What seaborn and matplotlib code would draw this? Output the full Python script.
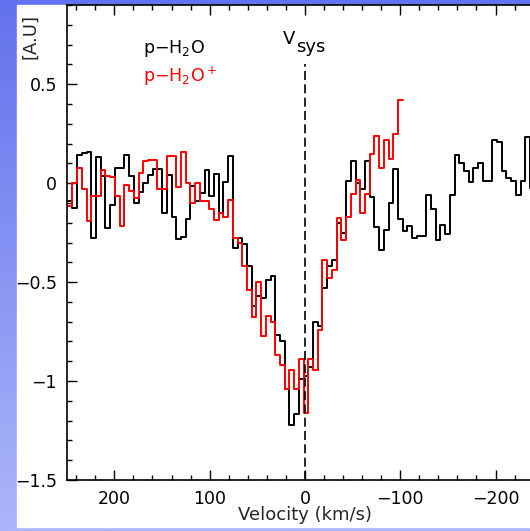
import numpy as np
import pandas as pd
import seaborn as sns
import matplotlib.pyplot as plt
from matplotlib.ticker import MultipleLocator

# spectra, one value per channel (A.U.)
# channels start at +248.9 km/s and run towards negative velocity
ph2o = [-0.09, -0.125, 0.14, 0.15, 0.155, -0.277, 0.13, 0.035, -0.225, -0.11,
        0.075, 0.075, 0.14, 0.035, -0.1, -0.045, 0.0, 0.04, 0.07, 0.07,
        -0.15, 0.04, -0.17, -0.28, -0.27, -0.18, -0.013, -0.09, -0.05, 0.065,
        -0.067, 0.048, -0.15, 0.008, 0.139, -0.33, -0.277, -0.31, -0.42, -0.62,
        -0.57, -0.58, -0.49, -0.47, -0.765, -0.80, -1.04, -1.22, -1.165, -0.99,
        -0.975, -0.93, -0.70, -0.72, -0.53, -0.42, -0.386, -0.2, -0.25, 0.01,
        0.114, 0.0, -0.03, 0.114, -0.07, -0.22, -0.34, -0.235, -0.10, 0.073,
        -0.18, -0.243, -0.215, -0.277, -0.268, -0.265, -0.058, -0.13, -0.285, -0.21,
        -0.255, -0.058, 0.144, 0.1, 0.06, 0.004, 0.077, 0.1, 0.009, 0.009,
        0.216, 0.21, 0.06, 0.026, 0.009, -0.058, 0.01, 0.233, -0.023]

ph2o_plus = [-0.117, 0.0, 0.077, -0.03, -0.19, -0.067, -0.067, 0.068, 0.038, 0.03,
             -0.067, -0.215, -0.008, -0.04, -0.073, 0.05, 0.11, 0.115, 0.115, -0.03,
             -0.03, 0.139, 0.139, -0.02, 0.155, 0.0, -0.1, 0.0, -0.09, -0.09,
             -0.13, -0.185, -0.15, -0.17, -0.085, -0.277, -0.305, -0.42, -0.54, -0.676,
             -0.5, -0.77, -0.67, -0.70, -0.866, -0.917, -1.04, -0.945, -1.04, -0.89,
             -1.16, -0.89, -0.945, -0.74, -0.39, -0.48, -0.437, -0.176, -0.285, -0.17,
             -0.053, 0.014, -0.15, -0.055, 0.147, 0.236, 0.077, 0.216, 0.122, 0.248,
             0.418]

chan_start = 248.9   # km/s
chan_width = 4.95    # km/s
vsys = 0.0

xticks = [200, 100, 0, -100, -200]
xtick_labels = ['200', '100', '0', '\u2212100', '\u2212200']
yticks = [0.5, 0, -0.5, -1, -1.5]
ytick_labels = ['0.5', '0', '\u22120.5', '\u22121', '\u22121.5']


def stairs_frame(vals):
    edges = chan_start - chan_width * np.arange(len(vals) + 1)
    return pd.DataFrame({'v': edges, 'flux': np.append(vals, vals[-1])})


sns.set_style('ticks')
plt.rcParams['font.family'] = ['DejaVu Sans']
plt.rcParams['mathtext.fontset'] = 'dejavusans'

W, H = 530, 531
fig = plt.figure(figsize=(W / 100, H / 100), dpi=100)

# slide background: blue gradient with a white panel
bg = fig.add_axes([0, 0, 1, 1], zorder=-5)
top_c = np.array([98, 114, 238]) / 255
bot_c = np.array([172, 182, 250]) / 255
grad = np.linspace(0, 1, 256)[:, None, None] * (bot_c - top_c) + top_c
bg.imshow(grad, aspect='auto', extent=[0, 1, 0, 1], origin='upper')
bg.add_patch(plt.Rectangle((17 / W, 4 / H), 1, (527 - 5) / H, color='white',
                           transform=bg.transAxes))
bg.set_axis_off()

ax = fig.add_axes([66.7 / W, 51 / H, 476.5 / W, 475 / H])
ax.set_facecolor('white')

sns.lineplot(data=stairs_frame(ph2o), x='v', y='flux', sort=False, estimator=None,
             drawstyle='steps-post', color='black', lw=1.4, ax=ax)
sns.lineplot(data=stairs_frame(ph2o_plus), x='v', y='flux', sort=False, estimator=None,
             drawstyle='steps-post', color='#ff0000', lw=1.4, ax=ax)

ax.set_xlim(250, -250)
ax.set_ylim(-1.5, 0.9)
ax.axvline(vsys, ymin=0, ymax=(0.6 + 1.5) / 2.4, color='black', lw=1.2,
           ls=(0, (5.4, 2.6)))

ax.set_xticks(xticks)
ax.set_xticklabels(xtick_labels)
ax.set_yticks(yticks)
ax.set_yticklabels(ytick_labels)
ax.xaxis.set_minor_locator(MultipleLocator(20))
ax.yaxis.set_minor_locator(MultipleLocator(0.1))
ax.tick_params(which='both', direction='in', top=True, right=True, width=1.0,
               color='black', labelsize=12.5, labelcolor='black')
ax.tick_params(which='major', length=7.5, pad=7)
ax.tick_params(which='minor', length=3.8)
for sp in ax.spines.values():
    sp.set_linewidth(1.2)
    sp.set_color('black')

ax.set_xlabel('Velocity (km/s)', fontsize=13, labelpad=-1)
ax.set_ylabel('')

fig.text(30 / W, 1 - 36.7 / H, '[A.U]', rotation=90, ha='center', va='center',
         fontsize=13)

ax.text(169.6, 0.656, 'p\u2212H$_2$O', color='black', fontsize=12.5, va='baseline')
ax.text(169.6, 0.51, 'p\u2212H$_2$O$^+$', color='#ff0000', fontsize=12.5, va='baseline')
ax.text(23.0, 0.703, 'V', color='black', fontsize=13, va='baseline')
ax.text(9.4, 0.662, 'sys', color='black', fontsize=13, va='baseline')

fig.savefig('out.png', dpi=100)
